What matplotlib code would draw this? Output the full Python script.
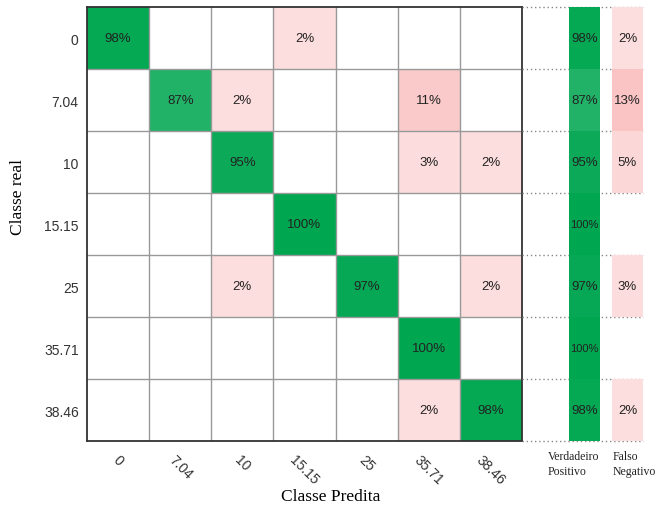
import matplotlib
matplotlib.use("Agg")
import matplotlib.pyplot as plt
import numpy as np
from matplotlib.colors import LinearSegmentedColormap

# classes and confusion percentages (rows = real, cols = predicted)
classes = ["0", "7.04", "10", "15.15", "25", "35.71", "38.46"]
conf_pct = np.array([
    [98, 0, 0, 2, 0, 0, 0],
    [0, 87, 2, 0, 0, 11, 0],
    [0, 0, 95, 0, 0, 3, 2],
    [0, 0, 0, 100, 0, 0, 0],
    [0, 0, 2, 0, 97, 0, 2],
    [0, 0, 0, 0, 0, 100, 0],
    [0, 0, 0, 0, 0, 2, 98],
])
true_pos = [98, 87, 95, 100, 97, 100, 98]
false_neg = [2, 13, 5, 0, 3, 0, 2]
summary_labels = ["Verdadeiro\nPositivo", "Falso\nNegativo"]

greens = LinearSegmentedColormap.from_list("g", ["#ffffff", "#00a650"])
pinks = LinearSegmentedColormap.from_list("p", ["#fde3e3", "#fac4c4"])

def cell_color(v, diag):
    if v == 0:
        return "white"
    if diag:
        return greens(v / 100)
    return pinks(min(v, 13) / 13)

fig = plt.figure(figsize=(6.56, 5.10), dpi=100)
W, H = 656, 510
ax = fig.add_axes([87 / W, 1 - 442 / H, 435 / W, 434 / H])

n = len(classes)
for i in range(n):
    for j in range(n):
        v = conf_pct[i, j]
        ax.add_patch(plt.Rectangle((j - 0.5, i - 0.5), 1, 1,
                                   facecolor=cell_color(v, i == j),
                                   edgecolor="none"))
        if v > 0:
            ax.text(j, i, f"{v}%", ha="center", va="center",
                    fontsize=9.5, color="#222222", family="Liberation Sans")

for k in range(1, n):
    ax.axhline(k - 0.5, color="#999999", lw=1)
    ax.axvline(k - 0.5, color="#999999", lw=1)

ax.set_xlim(-0.5, n - 0.5)
ax.set_ylim(n - 0.5, -0.5)
ax.set_xticks(range(n))
ax.set_yticks(range(n))
ax.set_xticklabels(classes, rotation=-45, ha="center", va="top",
                   fontsize=10, color="#333333", family="Liberation Sans")
ax.set_yticklabels(classes, fontsize=10, color="#333333",
                   family="Liberation Sans")
ax.tick_params(axis="x", length=0, pad=8)
ax.tick_params(axis="y", length=0, pad=6)
for s in ax.spines.values():
    s.set_color("#333333")
    s.set_linewidth(1.3)

# row summary
ax2 = fig.add_axes([522 / W, 1 - 442 / H, 123 / W, 434 / H])
ax2.set_xlim(0, 123)
ax2.set_ylim(n - 0.5, -0.5)
ax2.axis("off")
for k in range(n + 1):
    ax2.axhline(k - 0.5, xmin=0, xmax=121 / 123, color="#888888",
                lw=1, ls=(0, (1, 2)), zorder=0, clip_on=False)
rows = np.arange(n)
ax2.barh(rows, [31] * n, left=47,
         height=1.0, color=[greens(v / 100) for v in true_pos], zorder=1)
ax2.barh(rows, [31] * n, left=90, height=1.0,
         color=[cell_color(v, False) if v > 0 else (1, 1, 1, 0)
                for v in false_neg], zorder=1)
for i in range(n):
    ax2.text(62.5, i, f"{true_pos[i]}%", ha="center", va="center",
             fontsize=8 if true_pos[i] == 100 else 9.5, color="#222222",
             family="Liberation Sans", zorder=2)
    if false_neg[i] > 0:
        ax2.text(105.5, i, f"{false_neg[i]}%", ha="center", va="center",
                 fontsize=9.5, color="#222222", family="Liberation Sans",
                 zorder=2)
ax2.text(26, n - 0.5 + 0.15, summary_labels[0], ha="left", va="top",
         fontsize=8.5, family="Liberation Serif", color="#222222",
         linespacing=1.3)
ax2.text(91, n - 0.5 + 0.15, summary_labels[1], ha="left", va="top",
         fontsize=8.5, family="Liberation Serif", color="#222222",
         linespacing=1.3)

fig.text(331 / W, 1 - 497 / H, "Classe Predita", ha="center", va="center",
         fontsize=12.5, family="Liberation Serif")
fig.text(18 / W, 1 - 197 / H, "Classe real", ha="center", va="center",
         rotation=90, fontsize=12.5, family="Liberation Serif")

fig.savefig("out.png", dpi=100)
